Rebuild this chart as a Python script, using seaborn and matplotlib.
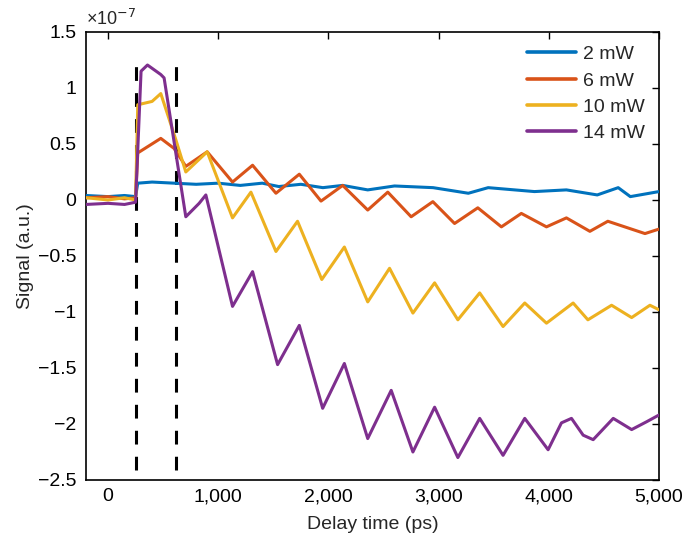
import numpy as np
import pandas as pd
import matplotlib
matplotlib.use("Agg")
import matplotlib.pyplot as plt
import seaborn as sns

labels = ["2 mW", "6 mW", "10 mW", "14 mW"]
colors = ["#0072BD", "#D95319", "#EDB120", "#7E2F8E"]

# delay (ps) and signal (units of 1e-7)
x_2mw = [-200, 0, 150, 250, 270, 400, 600, 800, 1000, 1200, 1400, 1550, 1750, 1950, 2130, 2357, 2600, 2950, 3270, 3450, 3870, 4160, 4440, 4630, 4740, 5000]
y_2mw = [0.04, 0.03, 0.04, 0.03, 0.15, 0.16, 0.15, 0.14, 0.15, 0.13, 0.15, 0.12, 0.14, 0.11, 0.13, 0.09, 0.125, 0.11, 0.06, 0.11, 0.075, 0.09, 0.045, 0.11, 0.03, 0.075]

x_6mw = [-200, 0, 150, 250, 270, 479, 600, 706, 900, 1130, 1312, 1524, 1736, 1933, 2130, 2357, 2539, 2751, 2948, 3145, 3356, 3570, 3751, 3979, 4160, 4373, 4536, 4873, 5000]
y_6mw = [0.02, 0.03, 0.01, 0.02, 0.42, 0.55, 0.46, 0.30, 0.43, 0.16, 0.31, 0.06, 0.23, -0.01, 0.13, -0.09, 0.07, -0.15, -0.015, -0.21, -0.07, -0.24, -0.12, -0.24, -0.16, -0.28, -0.19, -0.30, -0.26]

x_10mw = [-200, 0, 150, 250, 270, 400, 479, 615, 706, 900, 1130, 1297, 1524, 1720, 1940, 2145, 2357, 2555, 2767, 2964, 3175, 3373, 3585, 3782, 3979, 4221, 4355, 4570, 4752, 4918, 5000]
y_10mw = [0.02, 0.0, 0.02, 0.0, 0.85, 0.88, 0.95, 0.54, 0.25, 0.43, -0.16, 0.07, -0.46, -0.19, -0.71, -0.42, -0.91, -0.61, -1.01, -0.74, -1.07, -0.83, -1.13, -0.92, -1.10, -0.92, -1.07, -0.94, -1.05, -0.94, -0.98]

x_14mw = [-200, 0, 150, 250, 300, 358, 479, 509, 706, 827, 888, 1130, 1312, 1539, 1736, 1948, 2145, 2357, 2570, 2767, 2964, 3175, 3373, 3585, 3782, 3994, 4115, 4206, 4312, 4403, 4585, 4752, 4888, 5000]
y_14mw = [-0.04, -0.03, -0.04, -0.02, 1.15, 1.205, 1.12, 1.09, -0.15, -0.03, 0.045, -0.95, -0.64, -1.47, -1.12, -1.86, -1.46, -2.13, -1.70, -2.25, -1.85, -2.30, -1.95, -2.28, -1.95, -2.23, -1.99, -1.95, -2.10, -2.14, -1.95, -2.05, -1.98, -1.92]

pump_marks = [255, 615]
ytick_vals = [1.5, 1, 0.5, 0, -0.5, -1, -1.5, -2, -2.5]
ytick_labels = ["1.5", "1", "0.5", "0", "\u22120.5", "\u22121", "\u22121.5", "\u22122", "\u22122.5"]
xtick_vals = [0, 1000, 2000, 3000, 4000, 5000]
xtick_labels = ["0", "1,000", "2,000", "3,000", "4,000", "5,000"]

sns.set_theme(style="white")
plt.rcParams['font.family'] = ['Liberation Sans', 'DejaVu Sans']
FS = 14

frames = []
for lab, xs, ys in zip(labels, [x_2mw, x_6mw, x_10mw, x_14mw], [y_2mw, y_6mw, y_10mw, y_14mw]):
    frames.append(pd.DataFrame({"Delay": xs, "Signal": ys, "Power": lab}))
df = pd.concat(frames, ignore_index=True)

fig = plt.figure(figsize=(6.85, 5.41), dpi=100)
ax = fig.add_axes([0.1255, 0.1128, 0.8365, 0.8281])

for xv in pump_marks:
    ax.plot([xv, xv], [-2.41, 1.2], color="black", lw=2.2, dashes=(4.5, 4), zorder=1)

sns.lineplot(data=df, x="Delay", y="Signal", hue="Power", hue_order=labels,
             palette=colors, estimator=None, sort=False, lw=2.2, ax=ax, zorder=3)

ax.set_xlim(-200, 5000)
ax.set_ylim(-2.5, 1.5)
ax.set_xticks(xtick_vals)
ax.set_xticklabels(xtick_labels)
ax.set_yticks(ytick_vals)
ax.set_yticklabels(ytick_labels)
ax.tick_params(direction="in", length=5, width=1.0, top=True, right=True,
               labelsize=FS, colors="black")
ax.tick_params(axis="y", pad=7)
ax.tick_params(axis="x", pad=6)
for s in ax.spines.values():
    s.set_color("black")
    s.set_linewidth(1.2)
ax.set_xlabel("Delay time (ps)", fontsize=FS, labelpad=8)
ax.set_ylabel("Signal (a.u.)", fontsize=FS, labelpad=3)
ax.text(0.0, 1.006, "\u00d710$^{\u22127}$", transform=ax.transAxes, fontsize=13,
        ha="left", va="bottom")

leg = ax.legend(loc="upper right", frameon=False, fontsize=FS, handlelength=2.5,
                borderaxespad=0.3, labelspacing=0.45, handletextpad=0.4)
for lh in leg.get_lines():
    lh.set_linewidth(2.6)

fig.savefig("out.png", dpi=100)
